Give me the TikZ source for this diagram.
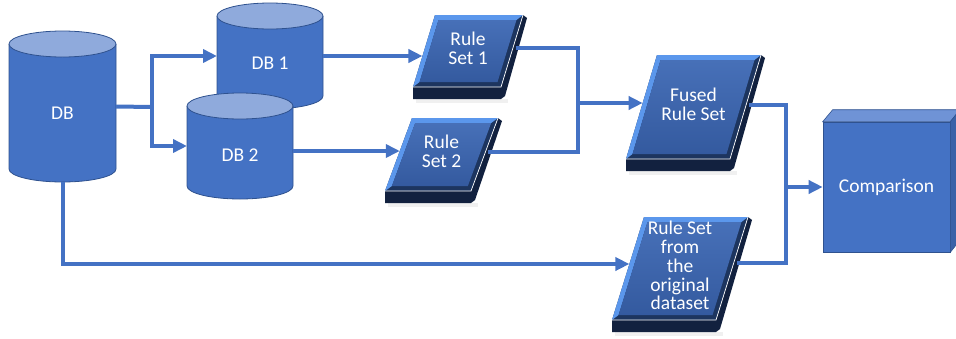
\documentclass[tikz,border=0pt]{standalone}
\usepackage{fontspec}
\setmainfont{Carlito}
\usetikzlibrary{arrows.meta,calc}
\definecolor{obl}{HTML}{4472C4}
\definecolor{oedge}{HTML}{2F528F}
\definecolor{otop}{HTML}{8FAADC}
\definecolor{rfaceA}{HTML}{4770B8}
\definecolor{rfaceB}{HTML}{345A9F}
\definecolor{rlight}{HTML}{5B97EC}
\definecolor{rdark}{HTML}{1D355F}
\definecolor{rslab}{HTML}{12213F}
\definecolor{ctop}{HTML}{6F93D6}
\definecolor{cside}{HTML}{3A62A8}
\tikzset{
  conn/.style={draw=obl, line width=4pt},
  arr/.style={conn, -{Triangle[length=14pt,width=13pt]}},
  lbl/.style={text=white, font=\fontsize{19.5}{18.8}\selectfont, align=center, inner sep=0pt},
  cylline/.style={draw=oedge, line width=0.8pt},
}
% name, cx, rx, top centre y, bottom centre y, ry, text y, text
\newcommand{\dbcyl}[8]{%
  \path[fill=obl, cylline] (#2-#3,#4) -- (#2-#3,#5) arc[start angle=180, end angle=0, x radius=#3, y radius=#6] -- (#2+#3,#4);
  \path[fill=otop, cylline] (#2,#4) ellipse[x radius=#3, y radius=#6];
  \coordinate (#1-w) at (#2-#3,{(#4+#5)/2});
  \coordinate (#1-e) at (#2+#3,{(#4+#5)/2});
  \coordinate (#1-s) at (#2,#5+#6);
  \node[lbl] (#1) at (#2,#7) {#8};
}
% name, top-left x, top y, bottom-left x, bottom y, width, in y, out y, text
\newcommand{\rulebox}[9]{%
  \pgfmathsetmacro\rbS{(#2-#4)/(#5-#3)}%
  \def\rbB{5}\def\rbT{12}%
  \coordinate (#1-A) at (#2,#3);
  \coordinate (#1-B) at (#2+#6,#3);
  \coordinate (#1-C) at (#4+#6,#5);
  \coordinate (#1-D) at (#4,#5);
  \coordinate (#1-a) at ({#2-\rbS*\rbB+\rbB},{#3+\rbB});
  \coordinate (#1-b) at ({#2+#6-\rbS*\rbB-\rbB},{#3+\rbB});
  \coordinate (#1-c) at ({#4+#6+\rbS*\rbB-\rbB},{#5-\rbB});
  \coordinate (#1-d) at ({#4+\rbS*\rbB+\rbB},{#5-\rbB});
  \fill[black,opacity=.06] ($(#1-D)+(3,\rbT)$) -- ($(#1-C)+(7,\rbT)$) -- ($(#1-C)+(7,\rbT+4)$) -- ($(#1-D)+(3,\rbT+4)$) -- cycle;
  \fill[rslab] (#1-D) -- (#1-C) -- (#1-B) -- ($(#1-B)+(4,3)$) -- ($(#1-C)+(4,\rbT-3)$) -- ($(#1-C)+(0,\rbT)$) -- ($(#1-D)+(0,\rbT)$) -- cycle;
  \fill[rdark] (#1-A) -- (#1-B) -- (#1-C) -- (#1-D) -- cycle;
  \fill[rlight] (#1-A) -- (#1-B) -- (#1-b) -- (#1-a) -- (#1-d) -- (#1-D) -- cycle;
  \shade[top color=rfaceA, bottom color=rfaceB] (#1-a) -- (#1-b) -- (#1-c) -- (#1-d) -- cycle;
  \draw[white, line width=.7pt] (#1-D) -- (#1-C) -- (#1-B);
  \coordinate (#1-in) at ({#4+\rbS*(#5-#7)},#7);
  \coordinate (#1-out) at ({#4+\rbS*(#5-#8)+#6+3},#8);
  \node[lbl] (#1) at ($(#1-a)!.5!(#1-c)+(0,-3)$) {#9};
}
\begin{document}
\begin{tikzpicture}[x=1pt,y=-1pt]
\useasboundingbox (0,0) rectangle (956,338);
% cylinders
\dbcyl{db}{62.5}{53.5}{44}{169}{13}{113}{DB}
\dbcyl{db1}{270}{53}{16}{96}{13}{63}{DB 1}
\dbcyl{db2}{240}{53}{106}{186}{13}{155}{DB 2}
% rule sets
\rulebox{rs1}{435}{15}{413}{87}{88}{56}{48}{Rule\\Set 1}
\rulebox{rs2}{412}{118}{385}{191}{86}{151}{152}{Rule\\Set 2}
\rulebox{fused}{657}{55}{626}{159}{104}{103}{105}{Fused\\Rule Set}
\rulebox{orig}{644}{217}{612}{320}{104}{264}{263}{Rule Set\\from\\the\\original\\dataset}
% comparison box
\node[lbl, fill=obl, draw=oedge, line width=.6pt, minimum width=127pt, minimum height=130pt] (cmp) at (886.5,187) {Comparison};
\filldraw[fill=ctop, draw=oedge, line width=.6pt] (cmp.north west) -- ++(10,-12) -- ++(127,0) -- (cmp.north east) -- cycle;
\filldraw[fill=cside, draw=oedge, line width=.6pt] (cmp.north east) -- ++(10,-12) -- ++(0,130) -- (cmp.south east) -- cycle;
% connectors
\coordinate (split) at (152,107);
\draw[conn] (db-e) -- (split);
\draw[arr] (split) |- (db1-w);
\draw[arr] (split) |- (db2-w);
\draw[arr] (db-s) |- (orig-in);
\draw[arr] (db1-e) -- (rs1-in);
\draw[arr] (db2-e |- rs2-in) -- (rs2-in);
\coordinate (jB) at (578,152);
\coordinate (jA) at (578,103);
\draw[conn] (rs1-out) -| (jB) -- (rs2-out);
\draw[arr] (jA) -- (fused-in);
\coordinate (jD) at (786,263);
\draw[conn] (fused-out) -| (jD) -- (orig-out);
\draw[arr] (jD |- cmp.west) -- (cmp.west);
\end{tikzpicture}
\end{document}
